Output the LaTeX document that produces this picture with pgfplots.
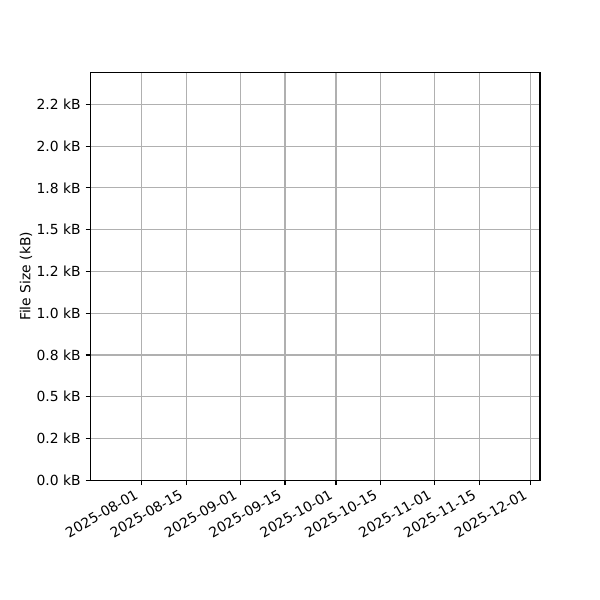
\documentclass[border=0pt]{standalone}
\usepackage{fontspec}
\setmainfont{DejaVu Sans}
\usepackage{pgfplots}
\pgfplotsset{compat=1.18}
\begin{document}
\fontsize{10bp}{12bp}\selectfont
\begin{tikzpicture}[x=1bp,y=1bp]
\useasboundingbox (0,0) rectangle (432,432);
\begin{axis}[
  at={(65.16bp,86.18bp)}, anchor=south west,
  scale only axis,
  width=323.64bp, height=293.54bp,
  xmin=-16, xmax=125,
  ymin=0, ymax=2.44,
  xtick={0,14,31,45,61,75,92,106,122},
  xticklabels={2025-08-01,2025-08-15,2025-09-01,2025-09-15,2025-10-01,2025-10-15,2025-11-01,2025-11-15,2025-12-01},
  ytick={0,0.25,0.5,0.75,1,1.25,1.5,1.75,2,2.25},
  yticklabels={0.0 kB,0.2 kB,0.5 kB,0.8 kB,1.0 kB,1.2 kB,1.5 kB,1.8 kB,2.0 kB,2.2 kB},
  xtick pos=left, ytick pos=left,
  tick align=outside,
  major tick length=3.5bp,
  tick style={black, line width=0.8bp},
  axis line style={line width=0.8bp},
  grid=major,
  major grid style={color=black!31, line width=0.8bp},
  xticklabel style={xshift=-5bp, yshift=-1bp, rotate=30, anchor=north east, inner sep=1bp, font=\fontsize{10bp}{12bp}\selectfont},
  yticklabel style={font=\fontsize{10bp}{12bp}\selectfont},
  ylabel={File Size (kB)},
  ylabel shift=-3.6bp,
  ylabel style={font=\fontsize{10bp}{12bp}\selectfont},
  /pgf/number format/assume math mode=true,
]
\end{axis}
\end{tikzpicture}
\end{document}
